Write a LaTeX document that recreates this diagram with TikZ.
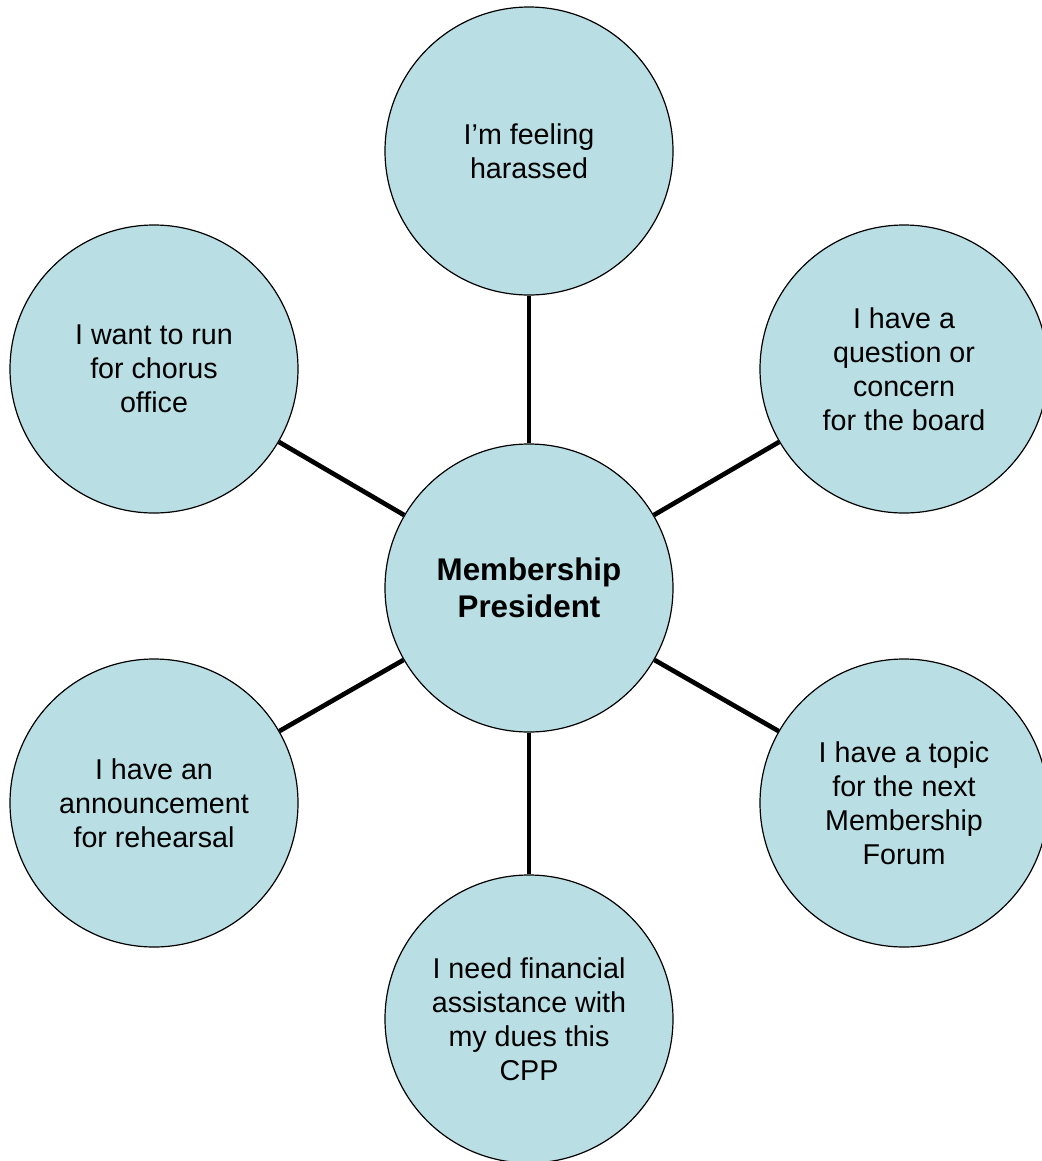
\documentclass[tikz,border=0pt]{standalone}
\usepackage{fontspec}
\setmainfont{Liberation Sans}
\definecolor{bubblefill}{RGB}{185,223,228}

\begin{document}
\begin{tikzpicture}[x=0.75pt,y=-0.75pt,
    bubble/.style={circle,draw,line width=0.9pt,fill=bubblefill,
      minimum size=216pt,inner sep=0pt,align=center,
      font=\fontsize{21.5}{25.5}\selectfont},
    hub/.style={bubble,font=\fontsize{23.5}{27.5}\selectfont\bfseries},
    spoke/.style={line width=3.5pt}]
  \useasboundingbox (0,0) rectangle (1042,1161);

  \node[hub] (pres) at (529,588) {Membership\\President};

  \node[bubble] (harass) at (529,151) {I'm feeling\\harassed};
  \node[bubble] (board) at (904,369) {I have a\\question or\\concern\\for the board};
  \node[bubble] (forum) at (904,803) {I have a topic\\for the next\\Membership\\Forum};
  \node[bubble] (dues) at (529,1019) {I need financial\\assistance with\\my dues this\\CPP};
  \node[bubble] (announce) at (154,803) {I have an\\announcement\\for rehearsal};
  \node[bubble] (office) at (154,369) {I want to run\\for chorus\\office};

  \foreach \n in {harass,board,forum,dues,announce,office}
    \draw[spoke] (pres) -- (\n);
\end{tikzpicture}
\end{document}
